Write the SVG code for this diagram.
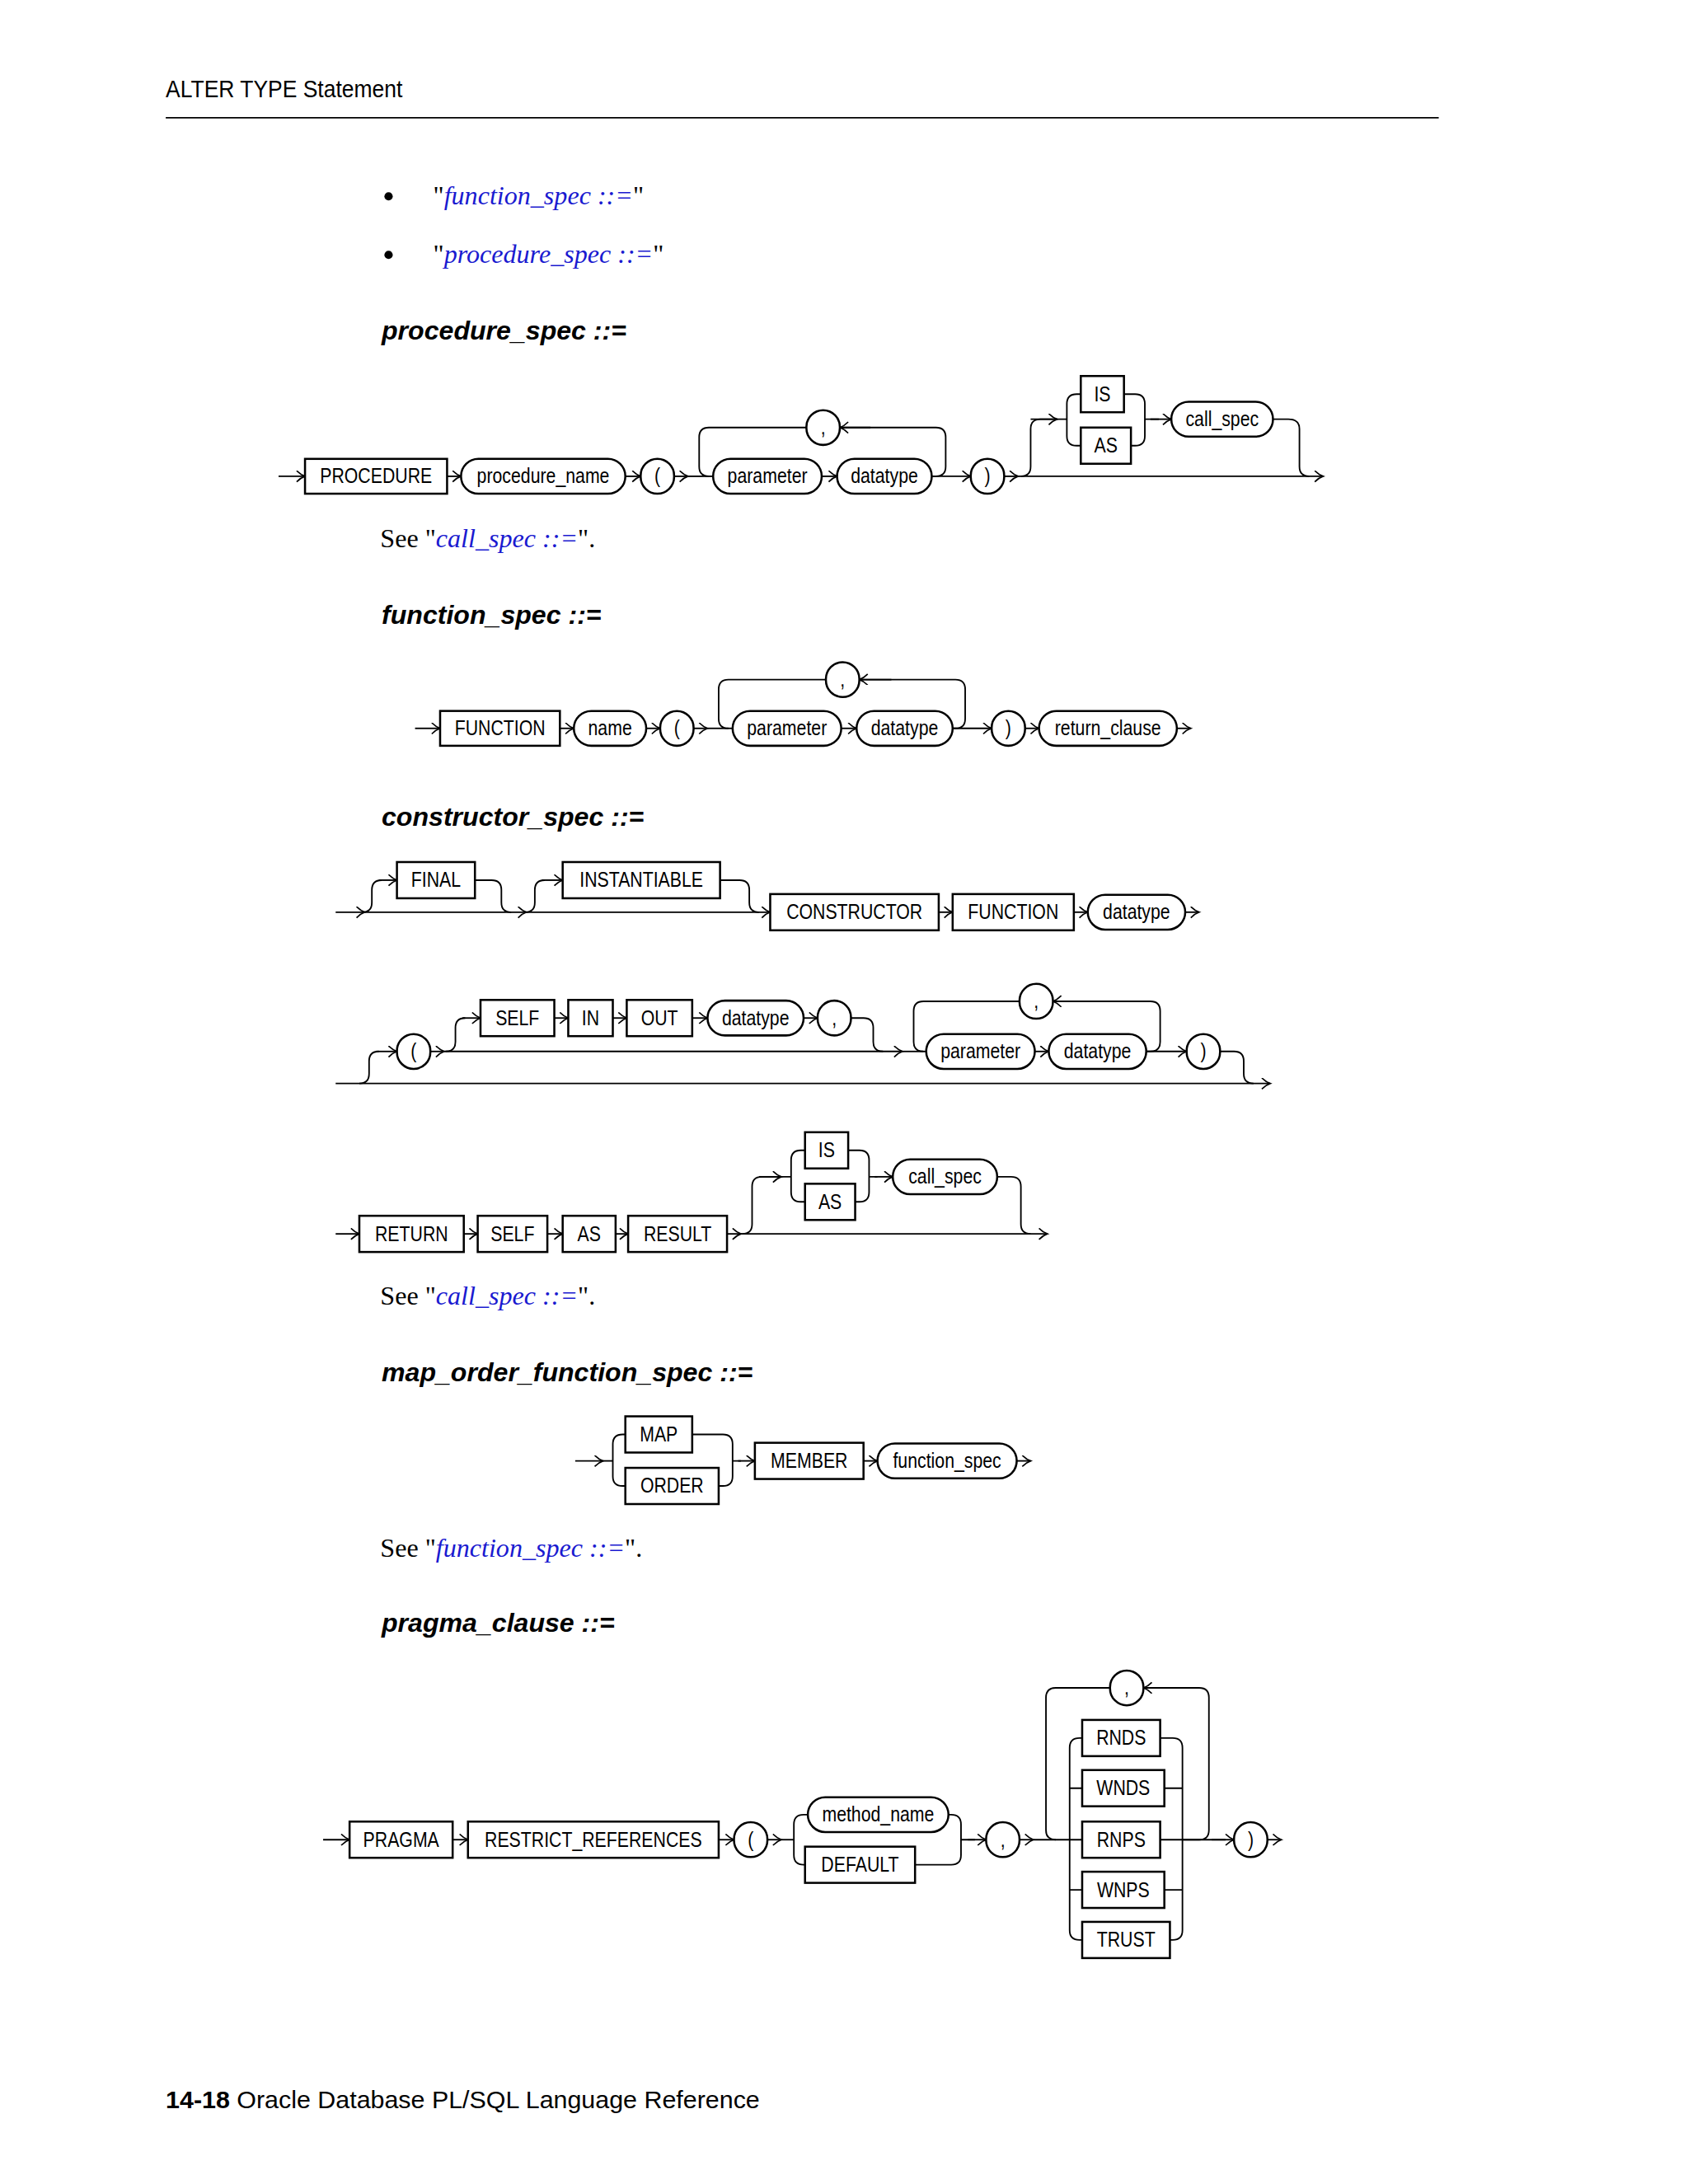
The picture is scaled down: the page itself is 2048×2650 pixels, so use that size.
<svg xmlns="http://www.w3.org/2000/svg" width="2048" height="2650" viewBox="0 0 2048 2650">
<style>
.bx{fill:#fff;stroke:#000;stroke-width:1.5}
.t{font-family:"Liberation Sans",Arial,sans-serif;font-size:15px;text-anchor:middle;transform-box:fill-box;transform-origin:center;transform:scaleX(0.84)}
.l{fill:none;stroke:#000;stroke-width:1.1}
.a{fill:none;stroke:#000;stroke-width:1.1;marker-end:url(#ar)}
.h{font-family:"Liberation Sans",Arial,sans-serif;font-size:19px;font-weight:bold;font-style:italic}
.s{font-family:"Liberation Serif","Times New Roman",serif;font-size:19px}
.lk{fill:#1a1ad0;font-style:italic}
.hd{font-family:"Liberation Sans",Arial,sans-serif;font-size:18px;transform-box:fill-box;transform-origin:left center;transform:scaleX(0.87)}
</style>
<defs>
<marker id="ar" markerUnits="userSpaceOnUse" markerWidth="10" markerHeight="10" refX="7" refY="4" orient="auto">
<path d="M1,0 Q4,3 7,4 Q4,5 1,8" fill="none" stroke="#000" stroke-width="1"/>
</marker>
</defs>
<rect width="2048" height="2650" fill="#fff"/>
<g transform="scale(1.6898)">
<g id="header">
<text x="119" y="70" class="hd">ALTER TYPE Statement</text>
<line x1="119" y1="84.5" x2="1033" y2="84.5" stroke="#000" stroke-width="1"/>
<circle cx="279" cy="141" r="3" fill="#000"/>
<text x="311" y="147" class="s">"<tspan class="lk">function_spec ::=</tspan>"</text>
<circle cx="279" cy="183" r="3" fill="#000"/>
<text x="311" y="189" class="s">"<tspan class="lk">procedure_spec ::=</tspan>"</text>
</g>

<g id="procedure_spec">
<text x="274" y="244" class="h">procedure_spec ::=</text>
<g id="conn1">
<path class="a" d="M200 342H219"/>
<path class="a" d="M321 342H331"/>
<path class="a" d="M449 342H460"/>
<path class="a" d="M484 342H494"/>
<path class="l" d="M494 342H512"/>
<path class="a" d="M590 342H601"/>
<path class="l" d="M669 342H672Q679 342 679 335V314Q679 307 672 307H603"/>
<path class="a" d="M625 307H603"/>
<path class="l" d="M579 307H509Q502 307 502 314V335Q502 342 509 342"/>
<path class="a" d="M669 342H697"/>
<path class="a" d="M721 342H731"/>
<path class="a" d="M731 342H950"/>
<path class="l" d="M733 342Q740 342 740 335V308Q740 301 747 301H766"/>
<path class="a" d="M740 301H759"/>
<path class="l" d="M766 301V290Q766 283 773 283H776M766 301V313Q766 320 773 320H776"/>
<path class="l" d="M807 283H815Q822 283 822 290V313Q822 320 815 320H812M822 301H832"/>
<path class="a" d="M826 301H841"/>
<path class="l" d="M914 301H925Q933 301 933 308V335Q933 342 940 342"/>
</g>
<g id="n1"><rect class="bx" x="219" y="329.5" width="102" height="25"/><text class="t" x="270" y="347">PROCEDURE</text></g>
<g id="n2"><rect class="bx" x="331" y="329.5" width="118" height="25" rx="12.5"/><text class="t" x="390" y="347">procedure_name</text></g>
<g id="n3"><rect class="bx" x="460" y="329.5" width="24" height="25" rx="12"/><text class="t" x="472" y="347">(</text></g>
<g id="n4"><rect class="bx" x="512" y="329.5" width="78" height="25" rx="12.5"/><text class="t" x="551" y="347">parameter</text></g>
<g id="n5"><rect class="bx" x="601" y="329.5" width="68" height="25" rx="12.5"/><text class="t" x="635" y="347">datatype</text></g>
<g id="n6"><rect class="bx" x="579" y="294.5" width="24" height="25" rx="12"/><text class="t" x="591" y="312">,</text></g>
<g id="n7"><rect class="bx" x="697" y="329.5" width="24" height="25" rx="12"/><text class="t" x="709" y="347">)</text></g>
<g id="n8"><rect class="bx" x="776" y="270" width="31" height="26"/><text class="t" x="791.5" y="288">IS</text></g>
<g id="n9"><rect class="bx" x="776" y="307" width="36" height="26"/><text class="t" x="794" y="325">AS</text></g>
<g id="n10"><rect class="bx" x="841" y="288.5" width="73" height="25" rx="12.5"/><text class="t" x="877.5" y="306">call_spec</text></g>
<text x="273" y="393" class="s">See "<tspan class="lk">call_spec ::=</tspan>".</text>
</g>

<g id="function_spec">
<text x="274" y="448" class="h">function_spec ::=</text>
<g id="conn2">
<path class="a" d="M298 523H316"/>
<path class="a" d="M402 523H412"/>
<path class="a" d="M464 523H474"/>
<path class="a" d="M498 523H508"/>
<path class="l" d="M508 523H526"/>
<path class="a" d="M604 523H615"/>
<path class="l" d="M684 523H686Q693 523 693 516V495Q693 488 686 488H617"/>
<path class="a" d="M640 488H617"/>
<path class="l" d="M593 488H523Q516 488 516 495V516Q516 523 523 523"/>
<path class="a" d="M684 523H712"/>
<path class="a" d="M736 523H746"/>
<path class="a" d="M845 523H855"/>
</g>
<g id="f1"><rect class="bx" x="316" y="510.5" width="86" height="25"/><text class="t" x="359" y="528">FUNCTION</text></g>
<g id="f2"><rect class="bx" x="412" y="510.5" width="52" height="25" rx="12.5"/><text class="t" x="438" y="528">name</text></g>
<g id="f3"><rect class="bx" x="474" y="510.5" width="24" height="25" rx="12"/><text class="t" x="486" y="528">(</text></g>
<g id="f4"><rect class="bx" x="526" y="510.5" width="78" height="25" rx="12.5"/><text class="t" x="565" y="528">parameter</text></g>
<g id="f5"><rect class="bx" x="615" y="510.5" width="69" height="25" rx="12.5"/><text class="t" x="649.5" y="528">datatype</text></g>
<g id="f6"><rect class="bx" x="593" y="475.5" width="24" height="25" rx="12"/><text class="t" x="605" y="493">,</text></g>
<g id="f7"><rect class="bx" x="712" y="510.5" width="24" height="25" rx="12"/><text class="t" x="724" y="528">)</text></g>
<g id="f8"><rect class="bx" x="746" y="510.5" width="99" height="25" rx="12.5"/><text class="t" x="795.5" y="528">return_clause</text></g>
</g>

<g id="constructor_spec">
<text x="274" y="593" class="h">constructor_spec ::=</text>
<g id="conn3">
<path class="a" d="M241 655H262"/>
<path class="a" d="M262 655H378"/>
<path class="a" d="M378 655H553"/>
<path class="l" d="M260 655Q267 655 267 648V639Q267 632 274 632"/>
<path class="a" d="M272 632H285"/>
<path class="l" d="M341 632H353Q360 632 360 639V648Q360 655 367 655"/>
<path class="l" d="M377 655Q384 655 384 648V639Q384 632 391 632"/>
<path class="a" d="M389 632H404"/>
<path class="l" d="M517 632H531Q538 632 538 639V648Q538 655 545 655"/>
<path class="a" d="M674 655H684"/>
<path class="a" d="M771 655H781"/>
<path class="a" d="M851 655H861"/>

<path class="a" d="M241 778H912"/>
<path class="l" d="M258 778Q265 778 265 771V762Q265 755 272 755"/>
<path class="a" d="M270 755H285"/>
<path class="a" d="M309 755H319"/>
<path class="a" d="M319 755H648"/>
<path class="l" d="M648 755H665"/>
<path class="l" d="M320 755Q327 755 327 748V738Q327 731 334 731"/>
<path class="a" d="M332 731H345"/>
<path class="a" d="M398 731H408"/>
<path class="a" d="M440 731H450"/>
<path class="a" d="M497 731H508"/>
<path class="a" d="M577 731H587"/>
<path class="l" d="M611 731H620Q627 731 627 738V748Q627 755 634 755"/>
<path class="a" d="M743 755H753"/>
<path class="l" d="M823 755H826Q833 755 833 748V726Q833 719 826 719H756"/>
<path class="a" d="M778 719H756"/>
<path class="l" d="M732 719H663Q656 719 656 726V748Q656 755 663 755"/>
<path class="a" d="M823 755H852"/>
<path class="l" d="M876 755H886Q893 755 893 762V771Q893 778 900 778"/>

<path class="a" d="M241 886H258"/>
<path class="a" d="M333 886H343"/>
<path class="a" d="M393 886H404"/>
<path class="a" d="M442 886H451"/>
<path class="a" d="M522 886H532"/>
<path class="a" d="M532 886H752"/>
<path class="l" d="M533 886Q540 886 540 879V852Q540 845 547 845H568"/>
<path class="a" d="M545 845H561"/>
<path class="l" d="M568 845V833Q568 826 575 826H578M568 845V856Q568 863 575 863H578"/>
<path class="l" d="M609 826H617Q624 826 624 833V856Q624 863 617 863H614M624 845H630"/>
<path class="a" d="M628 845H641"/>
<path class="l" d="M716 845H726Q733 845 733 852V879Q733 886 740 886"/>
</g>
<g id="c1"><rect class="bx" x="285" y="619" width="56" height="26"/><text class="t" x="313" y="637">FINAL</text></g>
<g id="c2"><rect class="bx" x="404" y="619" width="113" height="26"/><text class="t" x="460.5" y="637">INSTANTIABLE</text></g>
<g id="c3"><rect class="bx" x="553" y="642" width="121" height="26"/><text class="t" x="613.5" y="660">CONSTRUCTOR</text></g>
<g id="c4"><rect class="bx" x="684" y="642" width="87" height="26"/><text class="t" x="727.5" y="660">FUNCTION</text></g>
<g id="c5"><rect class="bx" x="781" y="642.5" width="70" height="25" rx="12.5"/><text class="t" x="816" y="660">datatype</text></g>

<g id="c6"><rect class="bx" x="285" y="742.5" width="24" height="25" rx="12"/><text class="t" x="297" y="760">(</text></g>
<g id="c7"><rect class="bx" x="345" y="718" width="53" height="26"/><text class="t" x="371.5" y="736">SELF</text></g>
<g id="c8"><rect class="bx" x="408" y="718" width="32" height="26"/><text class="t" x="424" y="736">IN</text></g>
<g id="c9"><rect class="bx" x="450" y="718" width="47" height="26"/><text class="t" x="473.5" y="736">OUT</text></g>
<g id="c10"><rect class="bx" x="508" y="718.5" width="69" height="25" rx="12.5"/><text class="t" x="542.5" y="736">datatype</text></g>
<g id="c11"><rect class="bx" x="587" y="718.5" width="24" height="25" rx="12"/><text class="t" x="599" y="736">,</text></g>
<g id="c12"><rect class="bx" x="665" y="742.5" width="78" height="25" rx="12.5"/><text class="t" x="704" y="760">parameter</text></g>
<g id="c13"><rect class="bx" x="753" y="742.5" width="70" height="25" rx="12.5"/><text class="t" x="788" y="760">datatype</text></g>
<g id="c14"><rect class="bx" x="732" y="706.5" width="24" height="25" rx="12"/><text class="t" x="744" y="724">,</text></g>
<g id="c15"><rect class="bx" x="852" y="742.5" width="24" height="25" rx="12"/><text class="t" x="864" y="760">)</text></g>

<g id="c16"><rect class="bx" x="258" y="873" width="75" height="26"/><text class="t" x="295.5" y="891">RETURN</text></g>
<g id="c17"><rect class="bx" x="343" y="873" width="50" height="26"/><text class="t" x="368" y="891">SELF</text></g>
<g id="c18"><rect class="bx" x="404" y="873" width="38" height="26"/><text class="t" x="423" y="891">AS</text></g>
<g id="c19"><rect class="bx" x="451" y="873" width="71" height="26"/><text class="t" x="486.5" y="891">RESULT</text></g>
<g id="c20"><rect class="bx" x="578" y="813" width="31" height="26"/><text class="t" x="593.5" y="831">IS</text></g>
<g id="c21"><rect class="bx" x="578" y="850" width="36" height="26"/><text class="t" x="596" y="868">AS</text></g>
<g id="c22"><rect class="bx" x="641" y="832.5" width="75" height="25" rx="12.5"/><text class="t" x="678.5" y="850">call_spec</text></g>
<text x="273" y="937" class="s">See "<tspan class="lk">call_spec ::=</tspan>".</text>
</g>

<g id="map_order_function_spec">
<text x="274" y="992" class="h">map_order_function_spec ::=</text>
<g id="conn4">
<path class="a" d="M413 1049H433"/>
<path class="l" d="M433 1049H440"/>
<path class="l" d="M440 1049V1037Q440 1030 447 1030H449M440 1049V1060Q440 1067 447 1067H449"/>
<path class="l" d="M497 1030H519Q526 1030 526 1037V1060Q526 1067 519 1067H516M526 1049H532"/>
<path class="a" d="M530 1049H542"/>
<path class="a" d="M620 1049H630"/>
<path class="a" d="M730 1049H740"/>
</g>
<g id="m1"><rect class="bx" x="449" y="1017" width="48" height="26"/><text class="t" x="473" y="1035">MAP</text></g>
<g id="m2"><rect class="bx" x="449" y="1054" width="67" height="26"/><text class="t" x="482.5" y="1072">ORDER</text></g>
<g id="m3"><rect class="bx" x="542" y="1036" width="78" height="26"/><text class="t" x="581" y="1054">MEMBER</text></g>
<g id="m4"><rect class="bx" x="630" y="1036.5" width="100" height="25" rx="12.5"/><text class="t" x="680" y="1054">function_spec</text></g>
<text x="273" y="1118" class="s">See "<tspan class="lk">function_spec ::=</tspan>".</text>
</g>

<g id="pragma_clause">
<text x="274" y="1172" class="h">pragma_clause ::=</text>
<g id="conn5">
<path class="a" d="M232 1321H251"/>
<path class="a" d="M325 1321H336"/>
<path class="a" d="M516 1321H527"/>
<path class="a" d="M551 1321H561"/>
<path class="l" d="M561 1321H570"/>
<path class="l" d="M570 1321V1310Q570 1303 577 1303H580M570 1321V1332Q570 1339 577 1339H578"/>
<path class="l" d="M681 1303H683Q690 1303 690 1310V1332Q690 1339 683 1339H657M690 1321H700"/>
<path class="a" d="M695 1321H708"/>
<path class="a" d="M732 1321H742"/>
<path class="l" d="M742 1321H777"/>
<path class="l" d="M768 1321V1255Q768 1248 775 1248H777M768 1284H777M768 1357H777M768 1321V1386Q768 1393 775 1393H777"/>
<path class="l" d="M833 1248H842Q849 1248 849 1255V1386Q849 1393 842 1393H840M836 1284H849M836 1357H849M833 1321H880"/>
<path class="l" d="M849 1321H861Q868 1321 868 1314V1219Q868 1212 861 1212H821"/>
<path class="a" d="M843 1212H821"/>
<path class="l" d="M797 1212H758Q751 1212 751 1219V1314Q751 1321 758 1321"/>
<path class="a" d="M870 1321H886"/>
<path class="a" d="M910 1321H920"/>
</g>
<g id="p1"><rect class="bx" x="251" y="1308" width="74" height="26"/><text class="t" x="288" y="1326">PRAGMA</text></g>
<g id="p2"><rect class="bx" x="336" y="1308" width="180" height="26"/><text class="t" x="426" y="1326">RESTRICT_REFERENCES</text></g>
<g id="p3"><rect class="bx" x="527" y="1308.5" width="24" height="25" rx="12"/><text class="t" x="539" y="1326">(</text></g>
<g id="p4"><rect class="bx" x="580" y="1290.5" width="101" height="25" rx="12.5"/><text class="t" x="630.5" y="1308">method_name</text></g>
<g id="p5"><rect class="bx" x="578" y="1326" width="79" height="26"/><text class="t" x="617.5" y="1344">DEFAULT</text></g>
<g id="p6"><rect class="bx" x="708" y="1308.5" width="24" height="25" rx="12"/><text class="t" x="720" y="1326">,</text></g>
<g id="p7"><rect class="bx" x="797" y="1199.5" width="24" height="25" rx="12"/><text class="t" x="809" y="1217">,</text></g>
<g id="p8"><rect class="bx" x="777" y="1235" width="56" height="26"/><text class="t" x="805" y="1253">RNDS</text></g>
<g id="p9"><rect class="bx" x="777" y="1271" width="59" height="26"/><text class="t" x="806.5" y="1289">WNDS</text></g>
<g id="p10"><rect class="bx" x="777" y="1308" width="56" height="26"/><text class="t" x="805" y="1326">RNPS</text></g>
<g id="p11"><rect class="bx" x="777" y="1344" width="59" height="26"/><text class="t" x="806.5" y="1362">WNPS</text></g>
<g id="p12"><rect class="bx" x="777" y="1380" width="63" height="26"/><text class="t" x="808.5" y="1398">TRUST</text></g>
<g id="p13"><rect class="bx" x="886" y="1308.5" width="24" height="25" rx="12"/><text class="t" x="898" y="1326">)</text></g>
</g>

<g id="footer">
<text x="119" y="1514" font-family="Liberation Sans,Arial,sans-serif" font-size="18"><tspan font-weight="bold">14-18</tspan>  Oracle Database PL/SQL Language Reference</text>
</g>
</g>
</svg>
